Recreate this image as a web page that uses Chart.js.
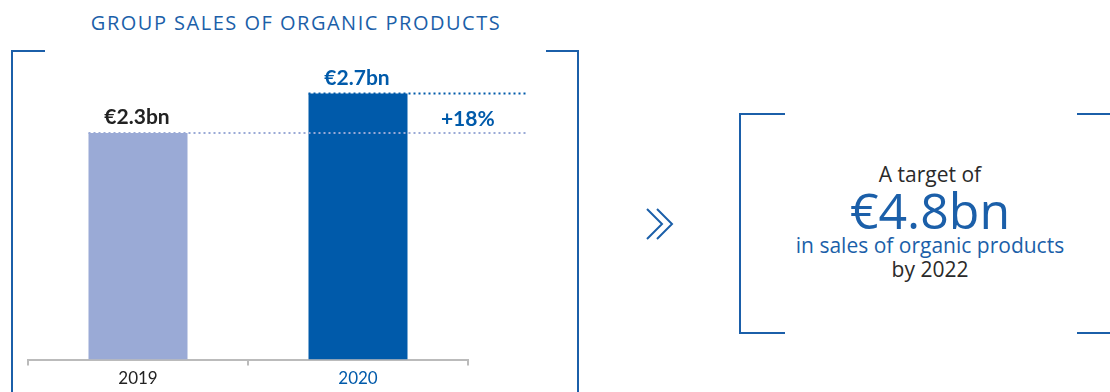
<!DOCTYPE html>
<html>
<head>
<meta charset="utf-8">
<script src="https://cdn.jsdelivr.net/npm/chart.js@4.4.1/dist/chart.umd.min.js"></script>
<style>
  body { margin: 0; background: #fff; width: 1110px; height: 392px; overflow: hidden; position: relative; font-family: Lato, sans-serif; }
  #chart-wrap { position: absolute; left: 0; top: 0; width: 600px; height: 392px; }
  .title { position: absolute; left: 0; width: 592px; top: 9px; text-align: center; color: #1b5fa9; font-family: 'Open Sans', sans-serif; font-size: 20px; letter-spacing: 1.5px; }
  .br { position: absolute; border-color: #1b5fa9; border-style: solid; border-width: 0; }
  .line { position: absolute; left: 760px; width: 340px; text-align: center; color: #2a2a2a; font-family: 'Open Sans', sans-serif; font-size: 21px; line-height: 26px; white-space: nowrap; }
  .big { color: #1b5fa9; font-size: 50px; line-height: 50px; }
  .blue { color: #1b5fa9; }
</style>
</head>
<body>
<div class="title">GROUP SALES OF ORGANIC PRODUCTS</div>

<div class="br" style="left:11px; top:50px; width:32px; height:360px; border-left-width:2px; border-top-width:2px;"></div>
<div class="br" style="left:546px; top:50px; width:31px; height:360px; border-right-width:2px; border-top-width:2px;"></div>

<div id="chart-wrap"><canvas id="salesChart"></canvas></div>

<svg style="position:absolute; left:640px; top:205px;" width="44" height="42">
  <polyline points="7,4 22,19 7,34" fill="none" stroke="#1b5fa9" stroke-width="2"/>
  <polyline points="17,4 32,19 17,34" fill="none" stroke="#1b5fa9" stroke-width="2"/>
</svg>

<div class="br" style="left:739px; top:113px; width:44px; height:217px; border-left-width:2px; border-top-width:2px; border-bottom-width:2px;"></div>
<div class="br" style="left:1077px; top:113px; width:44px; height:217px; border-right-width:2px; border-top-width:2px; border-bottom-width:2px;"></div>

<div class="line" style="top:161px;">A target of</div>
<div class="line big" style="top:185px;">€4.8bn</div>
<div class="line blue" style="top:232px;">in sales of organic products</div>
<div class="line" style="top:256px;">by 2022</div>

<script>
const years = ['2019', '2020'];
const sales = [2.3, 2.7];
const salesLabels = ['€2.3bn', '€2.7bn'];
const changeLabel = '+18%';

const barColors = ['#9aaad6', '#005aaa'];
const textColors = ['#222222', '#005aaa'];

// value labels + dotted guide lines
const guidePlugin = {
    id: 'guides',
    afterDatasetsDraw(chart) {
        const ctx = chart.ctx;
        const bars = chart.getDatasetMeta(0).data;
        const lineEnd = 528;
        ctx.save();
        bars.forEach((bar, i) => {
            const left = bar.x - bar.width / 2;
            ctx.beginPath();
            ctx.setLineDash([2, 3]);
            ctx.lineWidth = 2;
            ctx.strokeStyle = i === 0 ? '#9aaad6' : '#005aaa';
            ctx.moveTo(left, bar.y);
            ctx.lineTo(lineEnd, bar.y);
            ctx.stroke();

            ctx.setLineDash([]);
            ctx.fillStyle = textColors[i];
            ctx.font = 'bold 21px Lato';
            ctx.textAlign = 'center';
            ctx.textBaseline = 'alphabetic';
            ctx.fillText(salesLabels[i], bar.x - 1, bar.y - 9);
        });
        const last = bars[bars.length - 1];
        ctx.fillStyle = '#005aaa';
        ctx.font = 'bold 21px Lato';
        ctx.textAlign = 'center';
        ctx.fillText(changeLabel, (last.x + last.width / 2 + lineEnd) / 2, (bars[0].y + last.y) / 2 + 13);
        ctx.restore();
    }
};

const ctx = document.getElementById('salesChart').getContext('2d');
new Chart(ctx, {
    type: 'bar',
    data: {
        labels: years,
        datasets: [{
            data: sales,
            backgroundColor: barColors,
            barPercentage: 0.9,
            categoryPercentage: 0.5
        }]
    },
    options: {
        responsive: true,
        maintainAspectRatio: false,
        animation: false,
        layout: { padding: { left: 28, right: 132, top: 64, bottom: 0 } },
        plugins: { legend: { display: false }, tooltip: { enabled: false } },
        scales: {
            x: {
                grid: { display: true, drawOnChartArea: false, drawTicks: true, tickLength: 6, color: '#bbbbbb', lineWidth: 2, offset: true },
                border: { display: true, color: '#bbbbbb', width: 2 },
                ticks: {
                    color: (c) => textColors[c.index],
                    font: { family: 'Lato', size: 17 },
                    padding: 3
                }
            },
            y: { display: false, min: 0, max: 3.0 }
        }
    },
    plugins: [guidePlugin]
});
</script>
</body>
</html>
